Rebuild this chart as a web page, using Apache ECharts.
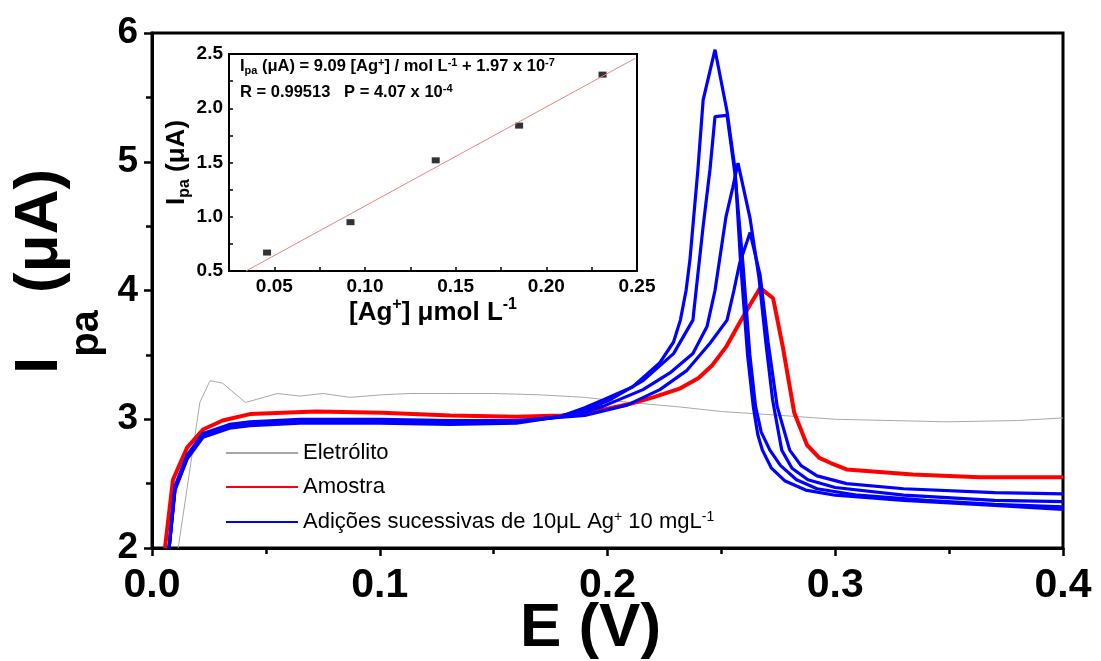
<!DOCTYPE html>
<html>
<head>
<meta charset="utf-8">
<script src="https://cdn.jsdelivr.net/npm/echarts@6/dist/echarts.min.js"></script>
<style>
  html, body { margin: 0; padding: 0; background: #fff; }
  #chart { width: 1101px; height: 661px; }
</style>
</head>
<body>
<div id="chart"></div>
<script>
var FONT = 'Liberation Sans, Arial, sans-serif';

// voltammograms: E (V) / Ipa (uA)
var eEletrolito = [0.0115, 0.021, 0.0255, 0.031, 0.041, 0.055, 0.065, 0.075, 0.087, 0.101, 0.113, 0.131, 0.15, 0.17, 0.19, 0.21, 0.232, 0.25, 0.276, 0.3, 0.349, 0.38, 0.4];
var iEletrolito = [2.0, 3.13, 3.30, 3.28, 3.13, 3.20, 3.18, 3.20, 3.17, 3.19, 3.20, 3.20, 3.20, 3.19, 3.17, 3.13, 3.095, 3.06, 3.03, 3.00, 2.98, 2.99, 3.01];

var eAmostra = [0.0057, 0.0092, 0.0154, 0.0224, 0.031, 0.043, 0.072, 0.101, 0.131, 0.16, 0.18, 0.197, 0.21, 0.22, 0.232, 0.24, 0.246, 0.252, 0.258, 0.2626, 0.267, 0.2727, 0.277, 0.282, 0.2876, 0.293, 0.298, 0.305, 0.334, 0.3635, 0.4];
var iAmostra = [2.0, 2.53, 2.78, 2.92, 2.99, 3.04, 3.06, 3.05, 3.03, 3.02, 3.03, 3.07, 3.12, 3.17, 3.24, 3.32, 3.42, 3.56, 3.75, 3.89, 4.02, 3.94, 3.56, 3.05, 2.80, 2.70, 2.66, 2.61, 2.57, 2.55, 2.55];

var eAdicao1 = [0.0075, 0.0101, 0.0154, 0.0224, 0.034, 0.043, 0.065, 0.1, 0.131, 0.16, 0.19, 0.2086, 0.223, 0.2349, 0.245, 0.2525, 0.2555, 0.258, 0.2626, 0.267, 0.2705, 0.2745, 0.28, 0.285, 0.292, 0.305, 0.33, 0.37, 0.4];
var iAdicao1 = [2.0, 2.48, 2.72, 2.89, 2.96, 2.98, 3.00, 3.00, 2.99, 2.99, 3.03, 3.11, 3.23, 3.38, 3.59, 3.77, 4.00, 4.21, 4.45, 4.12, 3.60, 3.10, 2.76, 2.64, 2.56, 2.50, 2.46, 2.43, 2.42];

var eAdicao2 = [0.0075, 0.0101, 0.0154, 0.0224, 0.034, 0.043, 0.065, 0.1, 0.131, 0.16, 0.185, 0.198, 0.2156, 0.2274, 0.2375, 0.2437, 0.2472, 0.252, 0.255, 0.2573, 0.2626, 0.2665, 0.2695, 0.2725, 0.2765, 0.281, 0.288, 0.3, 0.33, 0.37, 0.4];
var iAdicao2 = [2.0, 2.47, 2.71, 2.88, 2.95, 2.97, 2.99, 2.99, 2.98, 2.98, 3.03, 3.10, 3.23, 3.36, 3.51, 3.72, 4.00, 4.57, 4.80, 4.99, 4.56, 4.10, 3.60, 3.15, 2.76, 2.62, 2.53, 2.47, 2.41, 2.37, 2.36];

var eAdicao3 = [0.0075, 0.0101, 0.0154, 0.0224, 0.034, 0.043, 0.065, 0.1, 0.131, 0.16, 0.179, 0.19, 0.201, 0.2156, 0.229, 0.2375, 0.2389, 0.242, 0.245, 0.2472, 0.2525, 0.256, 0.2595, 0.2625, 0.265, 0.2675, 0.2713, 0.276, 0.283, 0.292, 0.31, 0.34, 0.37, 0.4];
var iAdicao3 = [2.0, 2.46, 2.70, 2.87, 2.94, 2.96, 2.98, 2.98, 2.97, 2.98, 3.02, 3.07, 3.15, 3.30, 3.51, 3.77, 4.00, 4.50, 4.94, 5.35, 5.36, 4.90, 4.20, 3.50, 3.10, 2.90, 2.76, 2.64, 2.53, 2.46, 2.41, 2.37, 2.34, 2.32];

var eAdicao4 = [0.0075, 0.0101, 0.0154, 0.0224, 0.034, 0.043, 0.065, 0.1, 0.131, 0.16, 0.179, 0.19, 0.198, 0.211, 0.223, 0.229, 0.232, 0.2345, 0.2362, 0.2397, 0.242, 0.2472, 0.2525, 0.256, 0.2585, 0.2615, 0.264, 0.266, 0.268, 0.272, 0.278, 0.287, 0.3, 0.33, 0.37, 0.4];
var iAdicao4 = [2.0, 2.45, 2.69, 2.86, 2.93, 2.95, 2.97, 2.97, 2.96, 2.97, 3.02, 3.09, 3.15, 3.25, 3.44, 3.60, 3.77, 4.00, 4.24, 4.94, 5.48, 5.87, 5.39, 4.94, 4.20, 3.50, 3.10, 2.88, 2.76, 2.62, 2.52, 2.45, 2.41, 2.37, 2.33, 2.30];

// inset: calibration
var concAg = [0.046, 0.092, 0.139, 0.185, 0.231];
var ipaAg = [0.67, 0.95, 1.52, 1.84, 2.31];
var fitConc = [0.0344, 0.249];
var fitIpa = [0.5, 2.46];

var BLUE_NAME = 'Adições';

function pairs(xs, ys) {
  return xs.map(function (x, i) { return [x, ys[i]]; });
}

var chart = echarts.init(document.getElementById('chart'));

var blueSets = [[eAdicao1, iAdicao1], [eAdicao2, iAdicao2], [eAdicao3, iAdicao3], [eAdicao4, iAdicao4]];
var blueSeries = blueSets.map(function (s) {
  return {
    name: BLUE_NAME, type: 'line', symbol: 'none', xAxisIndex: 0, yAxisIndex: 0,
    lineStyle: { color: '#0000ff', width: 3.2 }, itemStyle: { color: '#0000ff' },
    data: pairs(s[0], s[1])
  };
});

var boldRich = function (size, subSize) {
  return {
    b: { fontFamily: FONT, fontWeight: 'bold', fontSize: size, lineHeight: size * 1.2, color: '#000' },
    sub: { fontFamily: FONT, fontWeight: 'bold', fontSize: subSize, lineHeight: subSize, verticalAlign: 'bottom', color: '#000' },
    sup: { fontFamily: FONT, fontWeight: 'bold', fontSize: subSize, lineHeight: subSize, verticalAlign: 'top', color: '#000' }
  };
};

// big main y name: subscript pushed well below the baseline
var mainNameRich = {
  b: { fontFamily: FONT, fontWeight: 'bold', fontSize: 62, lineHeight: 62, verticalAlign: 'top', color: '#000' },
  sub: { fontFamily: FONT, fontWeight: 'bold', fontSize: 40, lineHeight: 40, verticalAlign: 'top', padding: [58, 0, 0, 0], color: '#000' }
};

var option = {
  animation: false,
  backgroundColor: '#fff',
  grid: [
    { left: 152, right: 38, top: 33, bottom: 113, show: true, borderColor: '#000', borderWidth: 3, outerBoundsMode: 'none' },
    { left: 229, top: 54, width: 408, height: 217, show: true, borderColor: '#000', borderWidth: 2, outerBoundsMode: 'none' }
  ],
  legend: {
    orient: 'vertical', left: 220, top: 437, itemWidth: 72, itemHeight: 14, itemGap: 12,
    selectedMode: false,
    itemStyle: { opacity: 0 },
    data: ['Eletrólito', 'Amostra', BLUE_NAME],
    formatter: function (name) {
      if (name === BLUE_NAME) return '{t|Adições sucessivas de 10μL Ag}{sup|+}{t| 10 mgL}{sup|-1}';
      return '{t|' + name + '}';
    },
    textStyle: {
      rich: {
        t: { fontFamily: FONT, fontSize: 22, lineHeight: 24, color: '#000' },
        sup: { fontFamily: FONT, fontSize: 14, lineHeight: 14, verticalAlign: 'top', color: '#000' }
      }
    }
  },
  xAxis: [
    {
      gridIndex: 0, type: 'value', min: 0, max: 0.4, interval: 0.1,
      name: 'E (V)', nameLocation: 'middle', nameGap: 50, nameMoveOverlap: false,
      nameTextStyle: { fontFamily: FONT, fontWeight: 'bold', fontSize: 62, color: '#000', padding: [0, 34, 0, 0] },
      axisLine: { lineStyle: { color: '#000', width: 3 } },
      axisTick: { length: 8, lineStyle: { color: '#000', width: 2.5 } },
      minorTick: { show: true, splitNumber: 2, length: 6, lineStyle: { color: '#000', width: 2.5 } },
      splitLine: { show: false },
      axisLabel: {
        margin: 17, fontFamily: FONT, fontWeight: 'bold', fontSize: 41, color: '#000',
        formatter: function (v) { return v.toFixed(1); }
      }
    },
    {
      gridIndex: 1, type: 'value', min: 0.025, max: 0.25, interval: 0.025,
      name: '{b|[Ag}{sup|+}{b|] μmol L}{sup|-1}', nameLocation: 'middle', nameGap: 22,
      nameTextStyle: { rich: boldRich(26, 16) },
      axisLine: { lineStyle: { color: '#000', width: 2 } },
      axisTick: { inside: true, length: 4, lineStyle: { color: '#000', width: 1.5 } },
      splitLine: { show: false },
      axisLabel: {
        margin: 6, fontFamily: FONT, fontWeight: 'bold', fontSize: 19, color: '#000', showMaxLabel: true,
        formatter: function (v) { return Math.round(v * 1000) % 50 === 0 ? v.toFixed(2) : ''; }
      }
    }
  ],
  yAxis: [
    {
      gridIndex: 0, type: 'value', min: 2, max: 6, interval: 1,
      name: '{b|I}{sub|pa}{b| (μA)}', nameLocation: 'middle', nameGap: 44,
      nameTextStyle: { rich: mainNameRich, padding: [0, 0, 0, 38] },
      axisLine: { lineStyle: { color: '#000', width: 3 } },
      axisTick: { length: 8, lineStyle: { color: '#000', width: 2.5 } },
      minorTick: { show: true, splitNumber: 2, length: 6, lineStyle: { color: '#000', width: 2.5 } },
      splitLine: { show: false },
      axisLabel: { margin: 14, fontFamily: FONT, fontWeight: 'bold', fontSize: 37, color: '#000' }
    },
    {
      gridIndex: 1, type: 'value', min: 0.5, max: 2.5, interval: 0.25,
      name: '{b|I}{sub|pa}{b| (μA)}', nameLocation: 'middle', nameGap: 36,
      nameTextStyle: { rich: boldRich(26, 16) },
      axisLine: { lineStyle: { color: '#000', width: 2 } },
      axisTick: { inside: true, length: 4, lineStyle: { color: '#000', width: 1.5 } },
      splitLine: { show: false },
      axisLabel: {
        margin: 6, fontFamily: FONT, fontWeight: 'bold', fontSize: 19, color: '#000',
        formatter: function (v) { return Math.round(v * 100) % 50 === 0 ? v.toFixed(1) : ''; }
      }
    }
  ],
  graphic: [
    {
      type: 'text', left: 240, top: 57,
      style: {
        text: '{b|I}{sub|pa}{b| (μA) = 9.09 [Ag}{sup|+}{b|] / mol L}{sup|-1}{b| + 1.97 x 10}{sup|-7}',
        rich: boldRich(16.5, 11)
      }
    },
    {
      type: 'text', left: 240, top: 83,
      style: {
        text: '{b|R = 0.99513   P = 4.07 x 10}{sup|-4}',
        rich: boldRich(16.5, 11)
      }
    }
  ],
  series: [
    {
      name: 'Eletrólito', type: 'line', symbol: 'none', xAxisIndex: 0, yAxisIndex: 0,
      lineStyle: { color: '#a8a8a8', width: 1 }, itemStyle: { color: '#a8a8a8' },
      data: pairs(eEletrolito, iEletrolito)
    },
    {
      name: 'Amostra', type: 'line', symbol: 'none', xAxisIndex: 0, yAxisIndex: 0,
      lineStyle: { color: '#ff0000', width: 4 }, itemStyle: { color: '#ff0000' },
      data: pairs(eAmostra, iAmostra)
    }
  ].concat(blueSeries).concat([
    {
      name: 'ajuste', type: 'line', symbol: 'none', xAxisIndex: 1, yAxisIndex: 1,
      lineStyle: { color: '#f08080', width: 1 },
      data: pairs(fitConc, fitIpa)
    },
    {
      name: 'pontos', type: 'scatter', xAxisIndex: 1, yAxisIndex: 1,
      symbol: 'rect', symbolSize: [8, 6], itemStyle: { color: '#000' },
      data: pairs(concAg, ipaAg)
    }
  ])
};

chart.setOption(option);
</script>
</body>
</html>
